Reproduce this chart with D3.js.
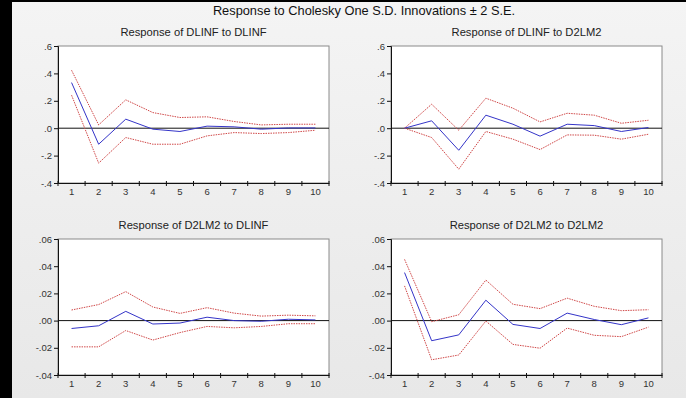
<!DOCTYPE html>
<html>
<head>
<meta charset="utf-8">
<script src="https://cdn.jsdelivr.net/npm/d3@7"></script>
<style>
  body { margin: 0; background: #fff; }
  svg { display: block; font-family: "Liberation Sans", Arial, sans-serif; }
</style>
</head>
<body>
<div id="chart"></div>
<script>
// periods on the x axis
var periods = [1, 2, 3, 4, 5, 6, 7, 8, 9, 10];

// Response of DLINF to DLINF
var dlinf_dlinf = [0.333, -0.117, 0.066, -0.007, -0.024, 0.015, 0.010, -0.007, 0.002, 0.002];
var dlinf_dlinf_up = [0.423, 0.024, 0.207, 0.114, 0.078, 0.083, 0.049, 0.024, 0.029, 0.029];
var dlinf_dlinf_lo = [0.241, -0.255, -0.068, -0.117, -0.117, -0.056, -0.032, -0.039, -0.032, -0.015];

// Response of DLINF to D2LM2
var dlinf_d2lm2 = [0.000, 0.054, -0.161, 0.095, 0.029, -0.058, 0.029, 0.019, -0.024, 0.005];
var dlinf_d2lm2_up = [0.000, 0.175, -0.015, 0.219, 0.146, 0.046, 0.109, 0.095, 0.036, 0.058];
var dlinf_d2lm2_lo = [0.000, -0.068, -0.299, -0.024, -0.080, -0.156, -0.049, -0.051, -0.080, -0.044];

// Response of D2LM2 to DLINF
var d2lm2_dlinf = [-0.0058, -0.0038, 0.0068, -0.0025, -0.0018, 0.0025, 0.0000, -0.0005, 0.0010, 0.0005];
var d2lm2_dlinf_up = [0.0078, 0.0118, 0.0213, 0.0100, 0.0053, 0.0095, 0.0055, 0.0033, 0.0040, 0.0035];
var d2lm2_dlinf_lo = [-0.0193, -0.0193, -0.0073, -0.0143, -0.0088, -0.0043, -0.0053, -0.0043, -0.0023, -0.0023];

// Response of D2LM2 to D2LM2
var d2lm2_d2lm2 = [0.0353, -0.0148, -0.0105, 0.0150, -0.0028, -0.0058, 0.0055, 0.0008, -0.0030, 0.0020];
var d2lm2_d2lm2_up = [0.0450, -0.0008, 0.0043, 0.0298, 0.0120, 0.0088, 0.0165, 0.0105, 0.0073, 0.0080];
var d2lm2_d2lm2_lo = [0.0255, -0.0288, -0.0253, -0.0003, -0.0175, -0.0203, -0.0055, -0.0108, -0.0118, -0.0048];

// y tick values and labels
var ticksTop = [0.6, 0.4, 0.2, 0.0, -0.2, -0.4];
var ticksTopLabels = [".6", ".4", ".2", ".0", "-.2", "-.4"];
var ticksBottom = [0.06, 0.04, 0.02, 0.00, -0.02, -0.04];
var ticksBottomLabels = [".06", ".04", ".02", ".00", "-.02", "-.04"];

var mainTitle = "Response to Cholesky One S.D. Innovations \u00b1 2 S.E.";
var titles = ["Response of DLINF to DLINF", "Response of DLINF to D2LM2",
              "Response of D2LM2 to DLINF", "Response of D2LM2 to D2LM2"];

var W = 686, H = 398;

var svg = d3.select("#chart").append("svg")
  .attr("width", W)
  .attr("height", H);

// light grey backdrop
var defs = svg.append("defs");
var grad = defs.append("linearGradient")
  .attr("id", "bg").attr("x1", 0).attr("y1", 0).attr("x2", 0).attr("y2", 1);
grad.append("stop").attr("offset", "0%").attr("stop-color", "#f4f4f4");
grad.append("stop").attr("offset", "100%").attr("stop-color", "#e8e8e8");

svg.append("rect").attr("width", W).attr("height", H).attr("fill", "url(#bg)");
// black border strips left and top
svg.append("rect").attr("x", 0).attr("y", 0).attr("width", 12).attr("height", H).attr("fill", "#000");
svg.append("rect").attr("x", 0).attr("y", 0).attr("width", W).attr("height", 2).attr("fill", "#000");

svg.append("text")
  .attr("x", 364).attr("y", 15)
  .attr("text-anchor", "middle")
  .attr("font-size", 12.8)
  .attr("fill", "#111")
  .text(mainTitle);

var panels = [
  {title: titles[0], irf: dlinf_dlinf, up: dlinf_dlinf_up, lo: dlinf_dlinf_lo,
   ticks: ticksTop, labels: ticksTopLabels, x0: 58, x1: 329, y0: 46, y1: 183},
  {title: titles[1], irf: dlinf_d2lm2, up: dlinf_d2lm2_up, lo: dlinf_d2lm2_lo,
   ticks: ticksTop, labels: ticksTopLabels, x0: 391, x1: 662, y0: 46, y1: 183},
  {title: titles[2], irf: d2lm2_dlinf, up: d2lm2_dlinf_up, lo: d2lm2_dlinf_lo,
   ticks: ticksBottom, labels: ticksBottomLabels, x0: 58, x1: 329, y0: 239, y1: 375},
  {title: titles[3], irf: d2lm2_d2lm2, up: d2lm2_d2lm2_up, lo: d2lm2_d2lm2_lo,
   ticks: ticksBottom, labels: ticksBottomLabels, x0: 391, x1: 662, y0: 239, y1: 375}
];

panels.forEach(function(p) {
  var x = d3.scaleBand().domain(periods).range([p.x0, p.x1]);
  var y = d3.scaleLinear()
    .domain([d3.min(p.ticks), d3.max(p.ticks)])
    .range([p.y1, p.y0]);

  var g = svg.append("g");

  g.append("text")
    .attr("x", (p.x0 + p.x1) / 2).attr("y", p.y0 - 10)
    .attr("text-anchor", "middle")
    .attr("font-size", 11.2)
    .attr("fill", "#222")
    .text(p.title);

  // plot area
  g.append("rect")
    .attr("x", p.x0).attr("y", p.y0)
    .attr("width", p.x1 - p.x0).attr("height", p.y1 - p.y0)
    .attr("fill", "#fff")
    .attr("stroke", "#8a8a8a")
    .attr("stroke-width", 1);

  // zero line
  g.append("line")
    .attr("x1", p.x0).attr("x2", p.x1)
    .attr("y1", y(0)).attr("y2", y(0))
    .attr("stroke", "#111").attr("stroke-width", 1);

  // y axis
  var labelOf = {};
  p.ticks.forEach(function(t, i) { labelOf[t] = p.labels[i]; });
  var yAxis = d3.axisLeft(y)
    .tickValues(p.ticks)
    .tickSize(4)
    .tickPadding(2)
    .tickFormat(function(d) { return labelOf[d]; });
  var ya = g.append("g")
    .attr("transform", "translate(" + p.x0 + ",0)")
    .call(yAxis);
  ya.select(".domain").attr("stroke", "#111");
  ya.selectAll(".tick line").attr("stroke", "#111");
  ya.selectAll("text").attr("font-size", 9.5).attr("fill", "#333")
    .attr("font-family", "Liberation Sans, Arial, sans-serif");

  // x axis: labels centred in bands, ticks on band edges
  var xAxis = d3.axisBottom(x).tickSize(0).tickPadding(5);
  var xa = g.append("g")
    .attr("transform", "translate(0," + p.y1 + ")")
    .call(xAxis);
  xa.select(".domain").attr("stroke", "#111");
  xa.selectAll("text").attr("font-size", 9.5).attr("fill", "#333")
    .attr("font-family", "Liberation Sans, Arial, sans-serif");
  xa.selectAll(".edge")
    .data(periods)
    .enter().append("line")
    .attr("x1", function(d) { return x(d); })
    .attr("x2", function(d) { return x(d); })
    .attr("y1", -2).attr("y2", 3)
    .attr("stroke", "#111");
  xa.append("line")
    .attr("x1", p.x1).attr("x2", p.x1)
    .attr("y1", -2).attr("y2", 3)
    .attr("stroke", "#111");

  var line = d3.line()
    .x(function(d, i) { return x(periods[i]) + x.bandwidth() / 2; })
    .y(function(d) { return y(d); });

  [p.up, p.lo].forEach(function(band) {
    g.append("path")
      .datum(band)
      .attr("d", line)
      .attr("fill", "none")
      .attr("stroke", "#d04848")
      .attr("stroke-width", 1)
      .attr("stroke-dasharray", "1.5,1");
  });

  g.append("path")
    .datum(p.irf)
    .attr("d", line)
    .attr("fill", "none")
    .attr("stroke", "#3434c8")
    .attr("stroke-width", 1);
});
</script>
</body>
</html>
